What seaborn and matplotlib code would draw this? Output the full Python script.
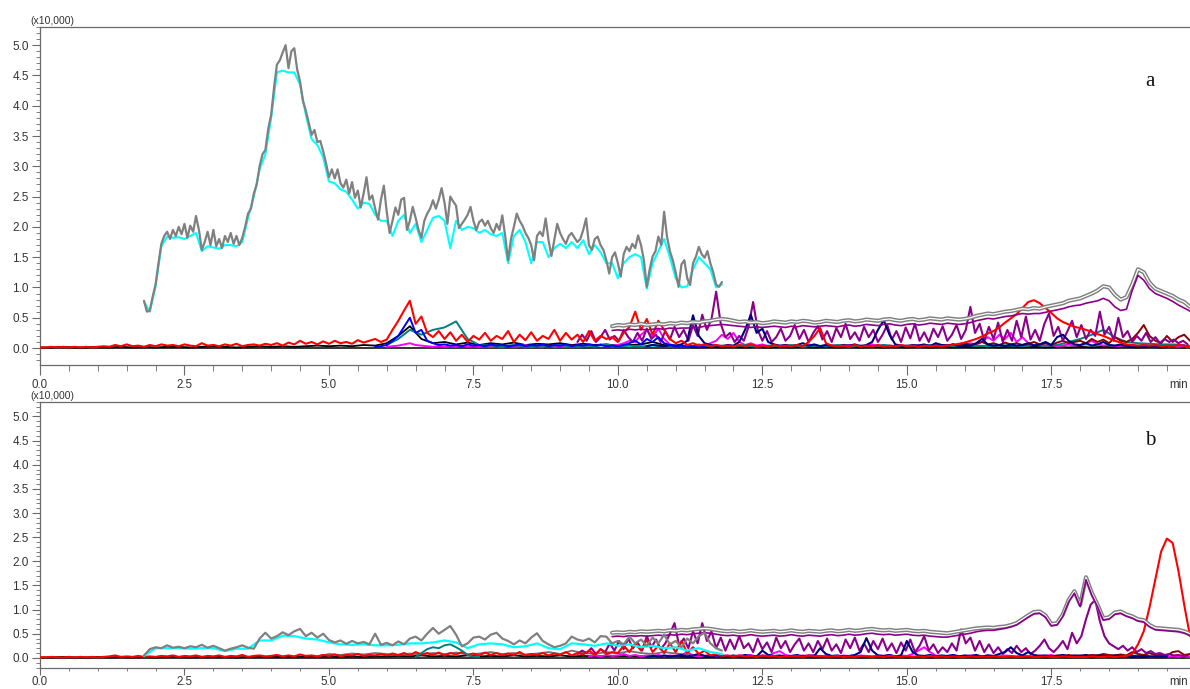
import numpy as np
import pandas as pd
import matplotlib
matplotlib.use("Agg")
import matplotlib.pyplot as plt
from matplotlib.ticker import MultipleLocator, FixedLocator, FixedFormatter
import seaborn as sns

# ---------------- DATA (intensity in units of x10,000; time in min) ----------------
# sampling: each trace = start time, sampling step, values
X_TICKS = [0.0, 2.5, 5.0, 7.5, 10.0, 12.5, 15.0, 17.5]
X_TICK_LABELS = ["0.0", "2.5", "5.0", "7.5", "10.0", "12.5", "15.0", "17.5"]
Y_TICKS = [0.0, 0.5, 1.0, 1.5, 2.0, 2.5, 3.0, 3.5, 4.0, 4.5, 5.0]
Y_TICK_LABELS = ["0.0", "0.5", "1.0", "1.5", "2.0", "2.5", "3.0", "3.5", "4.0", "4.5", "5.0"]

# ---- panel a ----
gray_a_start, gray_a_step = 1.80, 0.05
gray_a = [0.78, 0.60, 0.62, 0.85, 1.05, 1.40, 1.72, 1.85, 1.92, 1.80,
          1.95, 1.85, 2.00, 1.88, 2.05, 1.82, 2.02, 1.92, 2.18, 1.95,
          1.62, 1.75, 1.92, 1.70, 1.95, 1.68, 1.80, 1.65, 1.85, 1.75,
          1.90, 1.72, 1.85, 1.70, 1.82, 2.00, 2.22, 2.30, 2.55, 2.70,
          3.00, 3.20, 3.27, 3.62, 3.85, 4.30, 4.68, 4.75, 4.88, 5.00,
          4.62, 4.90, 4.95, 4.60, 4.40, 4.08, 3.92, 3.72, 3.52, 3.60,
          3.40, 3.42, 3.25, 3.05, 2.82, 2.95, 2.80, 2.95, 2.72, 2.65,
          2.78, 2.55, 2.74, 2.48, 2.60, 2.32, 2.55, 2.82, 2.45, 2.52,
          2.30, 2.12, 2.45, 2.68, 2.25, 1.90, 2.10, 2.32, 2.20, 2.45,
          2.48, 1.95, 2.10, 2.33, 2.15, 1.95, 1.82, 2.10, 2.22, 2.30,
          2.44, 2.30, 2.45, 2.64, 2.40, 2.05, 2.50, 2.42, 2.35, 1.98,
          2.05, 2.12, 2.20, 2.33, 2.10, 1.95, 2.08, 2.12, 2.02, 2.10,
          1.98, 1.90, 2.05, 1.95, 2.19, 1.85, 1.45, 1.80, 2.00, 2.22,
          2.10, 2.02, 1.90, 1.82, 1.70, 1.45, 1.85, 1.92, 1.85, 2.14,
          1.78, 1.52, 1.78, 2.05, 1.90, 1.80, 1.72, 1.85, 1.90, 1.82,
          1.75, 1.80, 1.95, 2.14, 1.70, 1.62, 1.80, 1.84, 1.70, 1.62,
          1.45, 1.23, 1.50, 1.58, 1.40, 1.18, 1.55, 1.67, 1.60, 1.72,
          1.65, 1.86, 1.70, 1.45, 1.01, 1.30, 1.51, 1.60, 1.84, 1.70,
          2.25, 1.84, 1.60, 1.45, 1.25, 1.01, 1.38, 1.45, 1.15, 1.04,
          1.40, 1.51, 1.67, 1.55, 1.49, 1.60, 1.40, 1.25, 1.05, 1.01,
          1.09]

cyan_a_start, cyan_a_step = 1.80, 0.1
cyan_a = [0.76, 0.60, 1.02, 1.68, 1.84, 1.82, 1.83, 1.80, 1.85, 1.90,
          1.60, 1.68, 1.66, 1.64, 1.70, 1.70, 1.68, 1.75, 2.15, 2.50,
          2.95, 3.20, 3.80, 4.55, 4.58, 4.55, 4.55, 4.35, 3.85, 3.45,
          3.35, 3.15, 2.75, 2.72, 2.62, 2.58, 2.45, 2.30, 2.40, 2.38,
          2.20, 2.10, 2.10, 1.85, 2.10, 2.20, 1.90, 2.05, 1.75, 1.95,
          2.15, 2.18, 2.10, 1.65, 2.10, 1.95, 2.00, 1.98, 1.90, 1.95,
          1.88, 1.85, 1.90, 1.40, 1.85, 1.95, 1.75, 1.40, 1.75, 1.75,
          1.50, 1.65, 1.72, 1.65, 1.75, 1.65, 1.78, 1.55, 1.70, 1.58,
          1.40, 1.40, 1.15, 1.40, 1.50, 1.55, 1.50, 0.98, 1.40, 1.60,
          1.80, 1.50, 1.15, 1.00, 1.02, 1.30, 1.50, 1.40, 1.30, 1.00,
          1.05]

dgray_a_start, dgray_a_step = 9.9, 0.1
dgray_a = [0.36, 0.38, 0.37, 0.39, 0.38, 0.40, 0.38, 0.39, 0.40, 0.39,
           0.41, 0.40, 0.42, 0.41, 0.43, 0.42, 0.44, 0.45, 0.47, 0.48,
           0.47, 0.45, 0.43, 0.44, 0.42, 0.43, 0.41, 0.42, 0.44, 0.43,
           0.42, 0.44, 0.43, 0.45, 0.44, 0.42, 0.43, 0.45, 0.44, 0.43,
           0.45, 0.46, 0.44, 0.45, 0.47, 0.46, 0.45, 0.47, 0.48, 0.46,
           0.45, 0.47, 0.48, 0.46, 0.47, 0.49, 0.48, 0.47, 0.49, 0.48,
           0.47, 0.48, 0.50, 0.53, 0.55, 0.57, 0.56, 0.58, 0.60, 0.61,
           0.63, 0.65, 0.64, 0.66, 0.65, 0.68, 0.70, 0.72, 0.74, 0.78,
           0.80, 0.82, 0.86, 0.90, 0.95, 1.02, 1.00, 0.88, 0.80, 0.84,
           1.05, 1.30, 1.25, 1.08, 0.98, 0.94, 0.90, 0.86, 0.80, 0.76,
           0.68]

purple2_a_start, purple2_a_step = 9.9, 0.1
purple2_a = [0.29, 0.30, 0.29, 0.31, 0.30, 0.31, 0.30, 0.31, 0.32, 0.31,
             0.33, 0.32, 0.33, 0.33, 0.34, 0.34, 0.36, 0.37, 0.38, 0.39,
             0.38, 0.37, 0.36, 0.35, 0.34, 0.35, 0.34, 0.35, 0.36, 0.35,
             0.34, 0.36, 0.35, 0.37, 0.36, 0.35, 0.36, 0.37, 0.36, 0.35,
             0.37, 0.38, 0.36, 0.37, 0.39, 0.38, 0.37, 0.39, 0.40, 0.38,
             0.37, 0.39, 0.40, 0.38, 0.39, 0.41, 0.40, 0.39, 0.41, 0.40,
             0.39, 0.40, 0.42, 0.45, 0.47, 0.49, 0.48, 0.50, 0.52, 0.53,
             0.55, 0.57, 0.56, 0.57, 0.57, 0.59, 0.61, 0.63, 0.65, 0.68,
             0.70, 0.71, 0.74, 0.76, 0.78, 0.82, 0.78, 0.68, 0.62, 0.64,
             0.95, 1.20, 1.12, 0.98, 0.90, 0.86, 0.82, 0.77, 0.71, 0.66,
             0.61]

purple_a_start, purple_a_step = 9.30, 0.08
purple_a = [0.10, 0.22, 0.12, 0.28, 0.10, 0.18, 0.30, 0.14, 0.20, 0.12,
            0.30, 0.18, 0.10, 0.25, 0.12, 0.32, 0.15, 0.22, 0.10, 0.28,
            0.14, 0.35, 0.18, 0.30, 0.12, 0.38, 0.20, 0.55, 0.30, 0.48,
            0.93, 0.40, 0.18, 0.25, 0.10, 0.20, 0.12, 0.35, 0.76, 0.30,
            0.12, 0.28, 0.10, 0.18, 0.32, 0.12, 0.20, 0.38, 0.15, 0.30,
            0.10, 0.25, 0.36, 0.14, 0.28, 0.10, 0.33, 0.18, 0.40, 0.15,
            0.26, 0.12, 0.35, 0.18, 0.30, 0.10, 0.22, 0.38, 0.14, 0.28,
            0.10, 0.34, 0.16, 0.40, 0.12, 0.26, 0.10, 0.32, 0.18, 0.36,
            0.12, 0.22, 0.38, 0.15, 0.30, 0.68, 0.25, 0.40, 0.12, 0.35,
            0.15, 0.42, 0.10, 0.30, 0.12, 0.45, 0.18, 0.52, 0.14, 0.30,
            0.12, 0.40, 0.57, 0.20, 0.35, 0.12, 0.28, 0.45, 0.18, 0.38,
            0.15, 0.30, 0.20, 0.60, 0.22, 0.35, 0.12, 0.50, 0.18, 0.28,
            0.10, 0.20, 0.12, 0.25, 0.10, 0.18, 0.08, 0.15, 0.10, 0.14,
            0.08, 0.12, 0.06]

red_a_start, red_a_step = 0.0, 0.1
red_a = [0.01, 0.01, 0.02, 0.01, 0.02, 0.01, 0.02, 0.01, 0.02, 0.01,
         0.02, 0.03, 0.02, 0.05, 0.03, 0.06, 0.03, 0.04, 0.02, 0.05,
         0.03, 0.06, 0.04, 0.05, 0.03, 0.06, 0.04, 0.03, 0.08, 0.04,
         0.05, 0.03, 0.06, 0.04, 0.07, 0.03, 0.05, 0.06, 0.04, 0.07,
         0.05, 0.08, 0.04, 0.09, 0.06, 0.12, 0.07, 0.10, 0.06, 0.11,
         0.07, 0.12, 0.08, 0.10, 0.07, 0.13, 0.09, 0.12, 0.15, 0.10,
         0.14, 0.30, 0.45, 0.62, 0.78, 0.40, 0.52, 0.25, 0.18, 0.28,
         0.15, 0.26, 0.12, 0.22, 0.10, 0.20, 0.14, 0.25, 0.12, 0.20,
         0.15, 0.28, 0.10, 0.22, 0.13, 0.26, 0.12, 0.20, 0.15, 0.30,
         0.12, 0.25, 0.14, 0.22, 0.10, 0.28, 0.12, 0.20, 0.15, 0.18,
         0.10, 0.25, 0.35, 0.60, 0.30, 0.48, 0.22, 0.45, 0.30, 0.15,
         0.08, 0.12, 0.05, 0.08, 0.04, 0.06, 0.03, 0.05, 0.03, 0.04,
         0.03, 0.05, 0.03, 0.06, 0.03, 0.04, 0.02, 0.05, 0.03, 0.04,
         0.03, 0.05, 0.03, 0.10, 0.20, 0.33, 0.08, 0.04, 0.03, 0.04,
         0.03, 0.05, 0.02, 0.04, 0.03, 0.05, 0.02, 0.04, 0.03, 0.05,
         0.03, 0.04, 0.02, 0.04, 0.03, 0.04, 0.03, 0.04, 0.05, 0.07,
         0.09, 0.12, 0.15, 0.19, 0.24, 0.28, 0.34, 0.42, 0.49, 0.56,
         0.66, 0.76, 0.79, 0.74, 0.66, 0.58, 0.49, 0.43, 0.39, 0.35,
         0.33, 0.30, 0.27, 0.23, 0.20, 0.16, 0.12, 0.09, 0.06, 0.05,
         0.04, 0.05, 0.04, 0.05, 0.03, 0.04, 0.03, 0.05, 0.04, 0.03]

blue_a_start, blue_a_step = 5.8, 0.1
blue_a = [0.02, 0.03, 0.05, 0.12, 0.20, 0.35, 0.50, 0.25, 0.30, 0.12,
          0.08, 0.05, 0.06, 0.04, 0.05, 0.03, 0.06, 0.04, 0.05, 0.03,
          0.06, 0.04, 0.05, 0.03, 0.04, 0.06, 0.03, 0.05, 0.04, 0.06,
          0.03, 0.05, 0.04, 0.06, 0.03, 0.05, 0.04, 0.06, 0.04, 0.05,
          0.03, 0.04, 0.03, 0.05, 0.08, 0.12, 0.06, 0.15, 0.10, 0.18,
          0.08, 0.05, 0.03, 0.04, 0.02, 0.03, 0.02, 0.02]

black_a_start, black_a_step = 0.0, 0.2
black_a = [0.01, 0.01, 0.02, 0.01, 0.01, 0.02, 0.01, 0.02, 0.01, 0.02,
           0.01, 0.02, 0.02, 0.01, 0.02, 0.03, 0.02, 0.01, 0.02, 0.03,
           0.02, 0.03, 0.02, 0.03, 0.04, 0.03, 0.04, 0.03, 0.05, 0.04,
           0.08, 0.20, 0.36, 0.15, 0.08, 0.10, 0.06, 0.09, 0.05, 0.08,
           0.06, 0.09, 0.05, 0.07, 0.06, 0.08, 0.05, 0.07, 0.05, 0.06,
           0.04, 0.05, 0.06, 0.10, 0.05, 0.03,
           0.02, 0.01, 0.02, 0.01, 0.02, 0.01, 0.02, 0.01, 0.02, 0.01,
           0.02, 0.01, 0.02, 0.01, 0.02, 0.01, 0.02, 0.01, 0.02, 0.01,
           0.02, 0.01, 0.02, 0.01, 0.02, 0.01, 0.02, 0.01, 0.02, 0.01,
           0.02, 0.01, 0.02, 0.01, 0.02, 0.01, 0.02, 0.01, 0.02, 0.01,
           0.02, 0.01, 0.02, 0.01]

teal_a_start, teal_a_step = 6.0, 0.2
teal_a = [0.05, 0.15, 0.30, 0.22, 0.30, 0.34, 0.44, 0.15, 0.05, 0.04,
          0.03, 0.05, 0.02, 0.04, 0.03, 0.05, 0.02, 0.04, 0.03, 0.06,
          0.03, 0.04, 0.02, 0.05, 0.03, 0.04, 0.02, 0.05, 0.03, 0.04,
          0.03, 0.05, 0.02, 0.04, 0.03, 0.05, 0.02, 0.04, 0.03, 0.05,
          0.02, 0.04, 0.03, 0.05, 0.03, 0.04, 0.03, 0.05, 0.04, 0.03,
          0.05, 0.04, 0.03, 0.05, 0.04, 0.03, 0.05, 0.04,
          0.05, 0.10, 0.15, 0.22, 0.30, 0.18, 0.10, 0.08, 0.07, 0.06,
          0.06, 0.05]

magenta_a_start, magenta_a_step = 6.0, 0.1
magenta_a = [0.02, 0.03, 0.04, 0.06, 0.08, 0.05, 0.04, 0.03, 0.02, 0.03,
             0.02, 0.03, 0.02, 0.04, 0.02, 0.03, 0.02, 0.03, 0.02, 0.03,
             0.02, 0.04, 0.02, 0.03, 0.05, 0.02, 0.03, 0.02, 0.04, 0.02,
             0.03, 0.02, 0.04, 0.02, 0.03, 0.05, 0.02, 0.06, 0.03, 0.04,
             0.05, 0.08, 0.12, 0.10, 0.22, 0.30, 0.18, 0.32, 0.15, 0.06,
             0.04, 0.03, 0.05, 0.03, 0.06, 0.04, 0.08, 0.12, 0.22, 0.15,
             0.25, 0.10, 0.05, 0.08, 0.04, 0.06, 0.03, 0.05, 0.03, 0.04,
             0.03, 0.05, 0.03, 0.06, 0.04, 0.03, 0.05, 0.03, 0.04, 0.03,
             0.05, 0.03, 0.04, 0.03, 0.06, 0.03, 0.05, 0.03, 0.04, 0.03,
             0.04, 0.03, 0.05, 0.03, 0.04, 0.06, 0.03, 0.05, 0.04, 0.06,
             0.05, 0.08, 0.06, 0.10, 0.18, 0.12, 0.22, 0.15, 0.25, 0.10,
             0.18, 0.08, 0.05, 0.06, 0.04, 0.05, 0.03, 0.04, 0.06, 0.04,
             0.05, 0.08, 0.12, 0.06, 0.04, 0.05, 0.03, 0.04, 0.03, 0.04,
             0.03, 0.04, 0.03, 0.02, 0.03, 0.02, 0.03, 0.02, 0.03, 0.02]

navy_a_start, navy_a_step = 10.5, 0.1
navy_a = [0.03, 0.05, 0.04, 0.03, 0.05,
          0.04, 0.06, 0.12, 0.54, 0.20, 0.08, 0.05, 0.04, 0.03, 0.05,
          0.04, 0.10, 0.30, 0.55, 0.25, 0.32, 0.10, 0.06, 0.04, 0.05,
          0.03, 0.05, 0.08, 0.04, 0.06, 0.03, 0.05, 0.04, 0.03, 0.05,
          0.04, 0.06, 0.03, 0.05, 0.10, 0.30, 0.46, 0.22, 0.06, 0.04,
          0.03, 0.05, 0.04, 0.06, 0.03, 0.08, 0.05, 0.04, 0.06, 0.03,
          0.05, 0.04, 0.08, 0.15, 0.06, 0.04, 0.05, 0.03, 0.06, 0.04,
          0.05, 0.08, 0.04, 0.06, 0.10, 0.05, 0.18, 0.22, 0.12, 0.06,
          0.05, 0.08, 0.04, 0.06, 0.10, 0.05, 0.04, 0.06, 0.03, 0.04,
          0.03, 0.04, 0.03, 0.02, 0.03, 0.02]

maroon_a_start, maroon_a_step = 15.5, 0.1
maroon_a = [0.03, 0.05, 0.04, 0.06, 0.05,
            0.08, 0.05, 0.07, 0.10, 0.06, 0.08, 0.05, 0.09, 0.06, 0.08,
            0.05, 0.07, 0.10, 0.06, 0.08, 0.05, 0.09, 0.12, 0.08, 0.10,
            0.12, 0.08, 0.15, 0.10, 0.14, 0.08, 0.18, 0.12, 0.10, 0.15,
            0.25, 0.38, 0.20, 0.12, 0.08, 0.20, 0.10, 0.18, 0.22, 0.12]

cyanlow_a_start, cyanlow_a_step = 9.9, 0.5
cyanlow_a = [0.03, 0.04, 0.03, 0.04, 0.03, 0.04, 0.03, 0.04, 0.03, 0.04,
             0.03, 0.04, 0.03, 0.04, 0.03, 0.04, 0.05, 0.04, 0.05, 0.04, 0.04]

# ---- panel b ----
gray_b_start, gray_b_step = 1.8, 0.1
gray_b = [0.05, 0.18, 0.22, 0.20, 0.26, 0.21, 0.23, 0.20, 0.24, 0.22,
          0.27, 0.21, 0.25, 0.20, 0.15, 0.19, 0.22, 0.26, 0.21, 0.19,
          0.40, 0.52, 0.40, 0.45, 0.53, 0.47, 0.55, 0.60, 0.45, 0.52,
          0.42, 0.50, 0.37, 0.32, 0.36, 0.29, 0.35, 0.30, 0.33, 0.28,
          0.50, 0.27, 0.31, 0.26, 0.34, 0.28, 0.40, 0.44, 0.36, 0.50,
          0.62, 0.50, 0.58, 0.66, 0.48, 0.24, 0.30, 0.42, 0.44, 0.38,
          0.48, 0.52, 0.40, 0.35, 0.28, 0.36, 0.30, 0.42, 0.51, 0.35,
          0.28, 0.22, 0.25, 0.30, 0.44, 0.38, 0.35, 0.40, 0.32, 0.45,
          0.44, 0.30, 0.35, 0.28, 0.44, 0.30, 0.38, 0.25, 0.42, 0.30,
          0.48, 0.28, 0.35, 0.22, 0.40, 0.30, 0.45, 0.52, 0.30, 0.20,
          0.15]

cyan_b_start, cyan_b_step = 1.8, 0.2
cyan_b = [0.04, 0.20, 0.20, 0.20, 0.19, 0.20, 0.20, 0.14, 0.19, 0.19,
          0.36, 0.36, 0.46, 0.45, 0.40, 0.38, 0.32, 0.28, 0.27, 0.28,
          0.26, 0.26, 0.27, 0.30, 0.30, 0.32, 0.36, 0.32, 0.20, 0.28,
          0.30, 0.28, 0.22, 0.24, 0.30, 0.20, 0.18, 0.30, 0.28, 0.25,
          0.30, 0.25, 0.28, 0.22, 0.25, 0.20, 0.22, 0.15, 0.20, 0.12,
          0.08]

teal_b_start, teal_b_step = 6.5, 0.1
teal_b = [0.02, 0.10, 0.18, 0.22, 0.20, 0.26, 0.28, 0.22, 0.15, 0.06, 0.03, 0.02]

dimgray_b_start, dimgray_b_step = 4.8, 0.2
dimgray_b = [0.03, 0.08, 0.06, 0.09, 0.07, 0.10, 0.08, 0.06, 0.09, 0.07,
             0.10, 0.08, 0.11, 0.07, 0.09, 0.12, 0.08, 0.10, 0.07, 0.09,
             0.12, 0.08, 0.15, 0.10, 0.08, 0.12, 0.09, 0.14, 0.10, 0.08,
             0.12, 0.09, 0.07, 0.05, 0.04, 0.03]

dgray_b_start, dgray_b_step = 9.9, 0.1
dgray_b = [0.52, 0.53, 0.52, 0.54, 0.53, 0.55, 0.54, 0.55, 0.56, 0.55,
           0.57, 0.56, 0.58, 0.57, 0.59, 0.60, 0.61, 0.60, 0.58, 0.56,
           0.55, 0.56, 0.54, 0.55, 0.57, 0.55, 0.54, 0.55, 0.56, 0.54,
           0.55, 0.57, 0.55, 0.54, 0.56, 0.55, 0.54, 0.56, 0.57, 0.55,
           0.56, 0.58, 0.56, 0.57, 0.59, 0.60, 0.58, 0.57, 0.58, 0.56,
           0.57, 0.58, 0.56, 0.55, 0.56, 0.54, 0.53, 0.52, 0.51, 0.53,
           0.55, 0.57, 0.59, 0.61, 0.62, 0.63, 0.62, 0.64, 0.65, 0.68,
           0.72, 0.80, 0.88, 0.95, 0.96, 0.88, 0.70, 0.72, 0.90, 1.20,
           1.38, 1.10, 1.67, 1.35, 1.10, 0.82, 0.84, 0.94, 0.96, 0.90,
           0.86, 0.80, 0.78, 0.68, 0.62, 0.61, 0.60, 0.59, 0.58, 0.55,
           0.50]

purple2_b_start, purple2_b_step = 9.9, 0.1
purple2_b = [0.44, 0.45, 0.44, 0.46, 0.45, 0.46, 0.45, 0.46, 0.47, 0.46,
             0.48, 0.47, 0.49, 0.48, 0.50, 0.51, 0.52, 0.51, 0.49, 0.47,
             0.46, 0.47, 0.45, 0.46, 0.48, 0.46, 0.45, 0.46, 0.47, 0.45,
             0.46, 0.48, 0.46, 0.45, 0.47, 0.46, 0.45, 0.47, 0.48, 0.46,
             0.47, 0.49, 0.47, 0.48, 0.50, 0.51, 0.49, 0.48, 0.49, 0.47,
             0.48, 0.49, 0.47, 0.46, 0.47, 0.45, 0.44, 0.43, 0.43, 0.45,
             0.47, 0.49, 0.51, 0.54, 0.56, 0.57, 0.57, 0.59, 0.61, 0.64,
             0.68, 0.76, 0.84, 0.91, 0.92, 0.84, 0.66, 0.68, 0.86, 1.16,
             1.34, 1.06, 1.62, 1.30, 1.06, 0.78, 0.80, 0.90, 0.92, 0.86,
             0.82, 0.76, 0.74, 0.64, 0.58, 0.57, 0.56, 0.55, 0.54, 0.51,
             0.46]

purple_b_start, purple_b_step = 9.30, 0.08
purple_b = [0.08, 0.15, 0.10, 0.20, 0.08, 0.18, 0.12, 0.30, 0.15, 0.35,
            0.18, 0.40, 0.20, 0.32, 0.15, 0.45, 0.22, 0.38, 0.18, 0.30,
            0.50, 0.72, 0.25, 0.40, 0.20, 0.55, 0.30, 0.72, 0.35, 0.55,
            0.20, 0.42, 0.15, 0.38, 0.18, 0.45, 0.20, 0.30, 0.12, 0.40,
            0.18, 0.32, 0.12, 0.42, 0.20, 0.35, 0.12, 0.28, 0.40, 0.15,
            0.30, 0.12, 0.35, 0.18, 0.40, 0.15, 0.28, 0.10, 0.38, 0.20,
            0.42, 0.15, 0.30, 0.12, 0.35, 0.18, 0.40, 0.15, 0.30, 0.10,
            0.32, 0.15, 0.38, 0.12, 0.25, 0.45, 0.15, 0.28, 0.10, 0.22,
            0.12, 0.30, 0.15, 0.59, 0.30, 0.42, 0.15, 0.35, 0.12, 0.28,
            0.10, 0.22, 0.08, 0.18, 0.10, 0.25, 0.12, 0.20, 0.08, 0.15,
            0.25, 0.38, 0.20, 0.12, 0.22, 0.35, 0.18, 0.52, 0.30, 0.45,
            0.80, 1.10, 1.20, 0.76, 0.45, 0.30, 0.24, 0.18, 0.25, 0.15,
            0.22, 0.12, 0.18, 0.10, 0.14, 0.08, 0.10, 0.06, 0.08, 0.05,
            0.06, 0.04, 0.05]

red_b_start, red_b_step = 0.0, 0.1
red_b = [0.01, 0.01, 0.02, 0.01, 0.01, 0.02, 0.01, 0.02, 0.01, 0.02,
         0.01, 0.02, 0.03, 0.05, 0.02, 0.03, 0.02, 0.04, 0.02, 0.03,
         0.02, 0.04, 0.03, 0.05, 0.02, 0.04, 0.03, 0.05, 0.02, 0.04,
         0.03, 0.05, 0.02, 0.04, 0.03, 0.06, 0.02, 0.04, 0.05, 0.03,
         0.04, 0.06, 0.03, 0.05, 0.03, 0.07, 0.04, 0.05, 0.03, 0.06,
         0.04, 0.07, 0.03, 0.06, 0.05, 0.08, 0.04, 0.06, 0.05, 0.08,
         0.05, 0.09, 0.06, 0.10, 0.05, 0.12, 0.07, 0.10, 0.06, 0.11,
         0.05, 0.10, 0.07, 0.12, 0.06, 0.09, 0.05, 0.11, 0.06, 0.10,
         0.05, 0.09, 0.06, 0.12, 0.05, 0.08, 0.06, 0.10, 0.05, 0.09,
         0.06, 0.12, 0.05, 0.10, 0.07, 0.15, 0.06, 0.18, 0.08, 0.12,
         0.10, 0.25, 0.12, 0.30, 0.15, 0.38, 0.12, 0.25, 0.10, 0.30,
         0.12, 0.35, 0.10, 0.22, 0.08, 0.15, 0.05, 0.08, 0.04, 0.05,
         0.03, 0.05, 0.03, 0.04, 0.02, 0.05, 0.03, 0.04, 0.02, 0.03,
         0.03, 0.04, 0.02, 0.05, 0.03, 0.04, 0.02, 0.03, 0.04, 0.02,
         0.03, 0.02, 0.04, 0.03, 0.02, 0.03, 0.02, 0.04, 0.03, 0.02,
         0.03, 0.02, 0.03, 0.02, 0.04, 0.02, 0.03, 0.02, 0.03, 0.02,
         0.02, 0.03, 0.02, 0.03, 0.02, 0.03, 0.02, 0.02, 0.03, 0.02,
         0.02, 0.03, 0.02, 0.02, 0.03, 0.02, 0.02, 0.03, 0.02, 0.02,
         0.02, 0.02, 0.03, 0.02, 0.02, 0.03, 0.02, 0.03, 0.04, 0.08,
         0.28, 0.55, 1.05, 1.62, 2.20, 2.47, 2.38, 1.80, 1.10, 0.45]

navy_b_start, navy_b_step = 10.5, 0.1
navy_b = [0.02, 0.04, 0.03, 0.05, 0.03,
          0.04, 0.06, 0.03, 0.05, 0.08, 0.04, 0.03, 0.05, 0.04, 0.03,
          0.05, 0.03, 0.06, 0.04, 0.03, 0.15, 0.06, 0.04, 0.05, 0.03,
          0.04, 0.06, 0.03, 0.05, 0.04, 0.20, 0.08, 0.04, 0.05, 0.03,
          0.04, 0.06, 0.12, 0.41, 0.15, 0.05, 0.04, 0.06, 0.03, 0.05,
          0.35, 0.12, 0.05, 0.04, 0.06, 0.03, 0.05, 0.04, 0.06, 0.03,
          0.05, 0.04, 0.06, 0.03, 0.05, 0.04, 0.08, 0.12, 0.22, 0.10,
          0.05, 0.12, 0.06, 0.04, 0.05, 0.03, 0.04, 0.06, 0.03, 0.05,
          0.04, 0.06, 0.03, 0.05, 0.04, 0.03, 0.05, 0.04, 0.03, 0.04,
          0.03, 0.04, 0.03, 0.02, 0.03, 0.02]

magenta_b_start, magenta_b_step = 9.5, 0.1
magenta_b = [0.03, 0.05, 0.03, 0.06, 0.04,
             0.05, 0.08, 0.04, 0.06, 0.03, 0.05, 0.04, 0.06, 0.03, 0.05,
             0.04, 0.06, 0.12, 0.05, 0.03, 0.04, 0.06, 0.03, 0.05, 0.04,
             0.03, 0.05, 0.04, 0.06, 0.03, 0.05, 0.04, 0.10, 0.14, 0.06,
             0.04, 0.03, 0.05, 0.04, 0.06, 0.03, 0.05, 0.04, 0.03, 0.05,
             0.04, 0.03, 0.05, 0.04, 0.03, 0.05, 0.04, 0.06, 0.03, 0.05,
             0.04, 0.08, 0.15, 0.22, 0.12, 0.05, 0.04, 0.03, 0.05, 0.04,
             0.03, 0.05, 0.04, 0.03, 0.05, 0.04, 0.03, 0.05, 0.04, 0.03,
             0.05, 0.04, 0.03, 0.05, 0.04, 0.06, 0.03, 0.05, 0.04, 0.03,
             0.04, 0.03, 0.05, 0.04, 0.03, 0.04, 0.03, 0.04, 0.03, 0.04,
             0.03, 0.04, 0.03, 0.02, 0.03, 0.02, 0.03, 0.02, 0.03, 0.02]

maroon_b_start, maroon_b_step = 17.5, 0.1
maroon_b = [0.03, 0.05, 0.04, 0.06, 0.04,
            0.05, 0.04, 0.06, 0.05, 0.08, 0.06, 0.05, 0.07, 0.05, 0.12,
            0.08, 0.06, 0.10, 0.05, 0.07, 0.05, 0.12, 0.14, 0.06, 0.08]

black_b_start, black_b_step = 0.0, 0.2
black_b = [0.01, 0.01, 0.02, 0.01, 0.01, 0.02, 0.01, 0.02, 0.01, 0.02,
           0.01, 0.02, 0.02, 0.01, 0.02, 0.02, 0.02, 0.01, 0.02, 0.02,
           0.02, 0.02, 0.02, 0.03, 0.02, 0.03, 0.02, 0.03, 0.02, 0.03,
           0.03, 0.04, 0.03, 0.05, 0.03, 0.04, 0.03, 0.05, 0.03, 0.04,
           0.03, 0.05, 0.03, 0.04, 0.03, 0.05, 0.03, 0.04, 0.03, 0.04,
           0.03, 0.04, 0.03, 0.04, 0.02, 0.03,
           0.02, 0.01, 0.02, 0.01, 0.02, 0.01, 0.02, 0.01, 0.02, 0.01,
           0.02, 0.01, 0.02, 0.01, 0.02, 0.01, 0.02, 0.01, 0.02, 0.01,
           0.02, 0.01, 0.02, 0.01, 0.02, 0.01, 0.02, 0.01, 0.02, 0.01,
           0.02, 0.01, 0.02, 0.01, 0.02, 0.01, 0.02, 0.01, 0.02, 0.01,
           0.02, 0.01, 0.02, 0.01]

cyanlow_b_start, cyanlow_b_step = 9.9, 0.5
cyanlow_b = [0.03, 0.04, 0.03, 0.04, 0.03, 0.04, 0.03, 0.04, 0.03, 0.04,
             0.03, 0.04, 0.03, 0.04, 0.03, 0.04, 0.04, 0.04, 0.05, 0.04, 0.04]

# ---------------- STYLE ----------------
sns.set_style("ticks")
plt.rcParams["font.family"] = ["Liberation Sans", "DejaVu Sans"]

C_GRAY = "#808080"
C_CYAN = "#00FFFF"
C_PURPLE = "#8B008B"
C_RED = "#FF0000"
C_BLUE = "#0000FF"
C_NAVY = "#000080"
C_BLACK = "#000000"
C_TEAL = "#008080"
C_MAGENTA = "#FF00FF"
C_MAROON = "#8B0000"
C_DIM = "#707070"

W, H = 1190, 689
fig = plt.figure(figsize=(W / 100, H / 100), dpi=100)
ax_a = fig.add_axes([40 / W, 1 - 365 / H, 1150 / W, (365 - 27) / H])
ax_b = fig.add_axes([40 / W, 1 - 668 / H, 1150 / W, (668 - 402) / H])


def trace(ax, start, step, vals, color, lw=1.3, z=2):
    t = start + step * np.arange(len(vals))
    df = pd.DataFrame({"t": t, "v": vals})
    sns.lineplot(data=df, x="t", y="v", ax=ax, color=color, lw=lw,
                 estimator=None, sort=False, legend=False, zorder=z)


def double_line(ax, start, step, vals, z=5):
    trace(ax, start, step, vals, C_GRAY, lw=3.0, z=z)
    trace(ax, start, step, vals, "white", lw=0.9, z=z + 0.1)


# panel a
trace(ax_a, cyanlow_a_start, cyanlow_a_step, cyanlow_a, C_CYAN, 1.3, 2)
trace(ax_a, black_a_start, black_a_step, black_a, C_BLACK, 1.3, 2.1)
trace(ax_a, magenta_a_start, magenta_a_step, magenta_a, C_MAGENTA, 1.4, 2.2)
trace(ax_a, teal_a_start, teal_a_step, teal_a, C_TEAL, 1.4, 2.3)
trace(ax_a, maroon_a_start, maroon_a_step, maroon_a, C_MAROON, 1.4, 2.4)
trace(ax_a, purple_a_start, purple_a_step, purple_a, C_PURPLE, 1.5, 2.5)
trace(ax_a, navy_a_start, navy_a_step, navy_a, C_NAVY, 1.5, 2.6)
trace(ax_a, blue_a_start, blue_a_step, blue_a, C_BLUE, 1.4, 2.7)
trace(ax_a, red_a_start, red_a_step, red_a, C_RED, 1.5, 2.8)
double_line(ax_a, dgray_a_start, dgray_a_step, dgray_a, 3.0)
trace(ax_a, purple2_a_start, purple2_a_step, purple2_a, C_PURPLE, 1.2, 3.2)
trace(ax_a, cyan_a_start, cyan_a_step, cyan_a, C_CYAN, 1.5, 3.5)
trace(ax_a, gray_a_start, gray_a_step, gray_a, C_GRAY, 1.6, 3.6)

# panel b
trace(ax_b, cyanlow_b_start, cyanlow_b_step, cyanlow_b, C_CYAN, 1.3, 2)
trace(ax_b, black_b_start, black_b_step, black_b, C_BLACK, 1.3, 2.1)
trace(ax_b, dimgray_b_start, dimgray_b_step, dimgray_b, C_DIM, 1.3, 2.15)
trace(ax_b, magenta_b_start, magenta_b_step, magenta_b, C_MAGENTA, 1.4, 2.2)
trace(ax_b, maroon_b_start, maroon_b_step, maroon_b, C_MAROON, 1.4, 2.4)
trace(ax_b, purple_b_start, purple_b_step, purple_b, C_PURPLE, 1.5, 2.5)
trace(ax_b, navy_b_start, navy_b_step, navy_b, C_NAVY, 1.5, 2.6)
trace(ax_b, red_b_start, red_b_step, red_b, C_RED, 1.5, 2.8)
double_line(ax_b, dgray_b_start, dgray_b_step, dgray_b, 3.0)
trace(ax_b, purple2_b_start, purple2_b_step, purple2_b, C_PURPLE, 1.2, 3.2)
trace(ax_b, cyan_b_start, cyan_b_step, cyan_b, C_CYAN, 1.6, 3.3)
trace(ax_b, teal_b_start, teal_b_step, teal_b, C_TEAL, 1.4, 3.4)
trace(ax_b, gray_b_start, gray_b_step, gray_b, C_GRAY, 1.6, 3.6)

SPINE = "#6a6a6a"
for ax, ylo, letter, lx, ly, xlen, xpad in [(ax_a, -0.28, "a", 0.965, 0.84, 7, 3),
                                            (ax_b, -0.21, "b", 0.965, 0.855, 5, 1)]:
    ax.set_xlim(0, 19.9)
    ax.set_ylim(ylo, 5.30)
    ax.set_xlabel("")
    ax.set_ylabel("")
    ax.xaxis.set_major_locator(FixedLocator(X_TICKS))
    ax.xaxis.set_major_formatter(FixedFormatter(X_TICK_LABELS))
    ax.xaxis.set_minor_locator(MultipleLocator(0.5))
    ax.yaxis.set_major_locator(FixedLocator(Y_TICKS))
    ax.yaxis.set_major_formatter(FixedFormatter(Y_TICK_LABELS))
    ax.yaxis.set_minor_locator(MultipleLocator(0.1))
    ax.tick_params(axis="both", which="major", direction="out", length=6,
                   width=0.8, color=SPINE, labelsize=8.5, labelcolor="#333333", pad=2)
    ax.tick_params(axis="both", which="minor", direction="out", length=3,
                   width=0.6, color=SPINE)
    ax.tick_params(axis="x", which="major", length=xlen, pad=xpad, labelsize=8.3)
    ax.tick_params(axis="x", which="minor", length=xlen - 3)
    for s in ["left", "top", "bottom"]:
        ax.spines[s].set_color(SPINE)
        ax.spines[s].set_linewidth(0.9)
    ax.spines["right"].set_visible(False)
    ax.axhline(0, color="#111111", lw=1.2, zorder=1.5)
    ax.text(-0.008, 1.004, "(x10,000)", transform=ax.transAxes, fontsize=7.5,
            color="#333333", ha="left", va="bottom")
    ax.text(lx, ly, letter, transform=ax.transAxes, fontsize=15,
            family=["Liberation Serif", "DejaVu Serif"], color="#111111",
            ha="center", va="center")
    ax.annotate("min", xy=(19.86, 0), xycoords=("data", "axes fraction"),
                xytext=(0, -(xlen + xpad)), textcoords="offset points",
                fontsize=8.3, color="#333333", ha="right", va="top")

fig.savefig("out.png", dpi=100)
